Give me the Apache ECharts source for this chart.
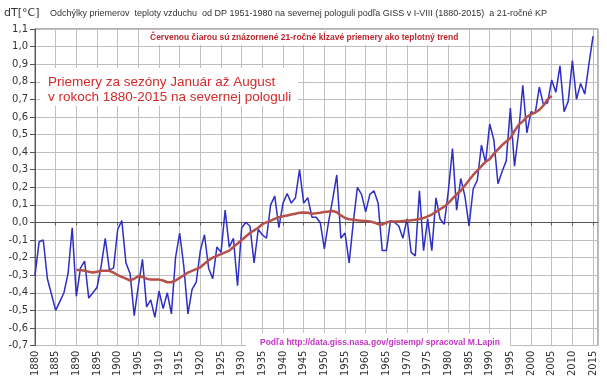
<!DOCTYPE html>
<html>
<head>
<meta charset="utf-8">
<script src="https://cdn.jsdelivr.net/npm/echarts@6/dist/echarts.min.js"></script>
<style>html,body{margin:0;padding:0;background:#fff;}#c{width:607px;height:379px;}</style>
</head>
<body>
<div id="c"></div>
<script>
const firstYear = 1880;
const annualValues = [
 -0.30,-0.11,-0.10,-0.32,-0.41,-0.50,-0.45,-0.40,-0.29,-0.03,
 -0.42,-0.26,-0.22,-0.43,-0.40,-0.37,-0.25,-0.09,-0.27,-0.26,
 -0.04,0.01,-0.23,-0.29,-0.53,-0.36,-0.21,-0.48,-0.44,-0.54,
 -0.39,-0.49,-0.40,-0.52,-0.20,-0.06,-0.25,-0.52,-0.38,-0.34,
 -0.16,-0.07,-0.26,-0.32,-0.14,-0.17,0.07,-0.14,-0.09,-0.36,
 -0.03,0.00,-0.02,-0.23,-0.04,-0.07,-0.09,0.10,0.15,-0.03,
 0.11,0.165,0.11,0.14,0.30,0.11,0.14,0.03,0.03,0.00,
 -0.15,0.00,0.13,0.27,-0.09,-0.06,-0.23,0.00,0.20,0.16,
 0.06,0.16,0.18,0.11,-0.16,-0.16,0.01,0.00,-0.02,-0.09,
 0.02,-0.17,-0.19,0.18,-0.16,0.02,-0.16,0.14,0.02,-0.01,
 0.18,0.42,0.07,0.25,0.15,-0.02,0.19,0.24,0.44,0.34,
 0.56,0.47,0.22,0.29,0.35,0.65,0.32,0.51,0.78,0.51,
 0.63,0.62,0.77,0.67,0.68,0.81,0.74,0.89,0.63,0.69,
 0.92,0.70,0.79,0.73,0.90,1.06
];
const maFirstYear = 1890;
const movingAvg = [
 -0.27,-0.27,-0.275,-0.28,-0.285,-0.28,-0.275,-0.275,-0.275,-0.285,
 -0.30,-0.31,-0.32,-0.33,-0.32,-0.305,-0.31,-0.32,-0.325,-0.325,
 -0.325,-0.33,-0.34,-0.34,-0.33,-0.315,-0.30,-0.285,-0.275,-0.265,
 -0.255,-0.235,-0.215,-0.20,-0.19,-0.18,-0.17,-0.16,-0.14,-0.12,
 -0.10,-0.08,-0.06,-0.045,-0.03,-0.01,0.00,0.01,0.02,0.03,
 0.035,0.04,0.045,0.05,0.055,0.057,0.055,0.05,0.052,0.055,
 0.06,0.062,0.065,0.058,0.04,0.025,0.018,0.015,0.012,0.01,
 0.008,0.006,0.0,-0.01,-0.012,0.0,0.006,0.006,0.006,0.008,
 0.01,0.012,0.015,0.02,0.025,0.035,0.045,0.06,0.075,0.09,
 0.11,0.135,0.16,0.18,0.21,0.24,0.27,0.295,0.32,0.345,
 0.36,0.39,0.415,0.44,0.46,0.48,0.52,0.555,0.575,0.60,
 0.615,0.625,0.64,0.665,0.70,0.72
];
const yTickMin = -0.7, yTickMax = 1.1, yTickStep = 0.1;
const xTickStep = 5;

const titleText = 'Odchýlky priemerov  teploty vzduchu  od DP 1951-1980 na severnej pologuli podľa GISS v I-VIII (1880-2015)  a 21-ročné KP';
const unitText = 'dT[°C]';
const trendNote = 'Červenou čiarou sú znázornené 21-ročné kĺzavé priemery ako teplotný trend';
const bigNote1 = 'Priemery za sezóny Január až August';
const bigNote2 = 'v rokoch 1880-2015 na severnej pologuli';
const sourceNote = 'Podľa http://data.giss.nasa.gov/gistemp/ spracoval M.Lapin';

const blueData = annualValues.map((v, i) => [firstYear + i, v]);
const redData = movingAvg.map((v, i) => [maFirstYear + i, v]);

const chart = echarts.init(document.getElementById('c'), null, {renderer: 'canvas'});
chart.setOption({
  animation: false,
  backgroundColor: '#fff',
  grid: {left: 35, right: 9, top: 29, bottom: 29, show: true, borderColor: '#666', borderWidth: 1},
  xAxis: {
    type: 'value', min: 1880, max: 2016.2, interval: xTickStep,
    axisLine: {show: true, lineStyle: {color: '#555'}},
    axisTick: {show: true, length: 3, lineStyle: {color: '#555'}},
    splitLine: {show: true, lineStyle: {color: '#bfbfbf', width: 1}},
    axisLabel: {rotate: 90, fontSize: 10, color: '#333', margin: 5, fontFamily: 'DejaVu Sans',
      showMaxLabel: false, formatter: v => String(v)}
  },
  yAxis: {
    type: 'value', min: yTickMin, max: yTickMax, interval: yTickStep,
    axisLine: {show: true, lineStyle: {color: '#555'}},
    axisTick: {show: true, length: 5, lineStyle: {color: '#555'}},
    splitLine: {show: true, lineStyle: {color: '#bfbfbf', width: 1}},
    axisLabel: {fontSize: 10, color: '#333', margin: 7, fontFamily: 'DejaVu Sans',
      formatter: v => v.toFixed(1).replace('.', ',')}
  },
  series: [
    {type: 'line', data: blueData, symbol: 'none', lineStyle: {color: '#2e2ec4', width: 1.5}, z: 2},
    {type: 'line', data: redData, symbol: 'none', smooth: false, lineStyle: {color: '#b5504a', width: 2.5}, z: 3}
  ],
  graphic: {
    elements: [
      {type: 'rect', z: 100, shape: {x: 140, y: 30, width: 318, height: 15}, style: {fill: '#fff'}},
      {type: 'rect', z: 100, shape: {x: 40, y: 68, width: 258, height: 38}, style: {fill: '#fff'}},
      {type: 'rect', z: 100, shape: {x: 246, y: 333, width: 264, height: 16}, style: {fill: '#fff'}},
      {type: 'text', z: 101, left: 4, top: 8, style: {text: unitText, fontSize: 11, fill: '#333', fontFamily: 'DejaVu Sans'}},
      {type: 'text', z: 101, left: 50, top: 9, style: {text: titleText, fontSize: 9, fill: '#333', fontFamily: 'Liberation Sans'}},
      {type: 'text', z: 101, left: 150, top: 33, style: {text: trendNote, fontSize: 8.5, fontWeight: 'bold', fill: '#b8282e', fontFamily: 'Liberation Sans'}},
      {type: 'text', z: 101, left: 48, top: 75, style: {text: bigNote1, fontSize: 13.5, fill: '#d42a2a', fontFamily: 'Liberation Sans'}},
      {type: 'text', z: 101, left: 48, top: 90, style: {text: bigNote2, fontSize: 13.5, fill: '#d42a2a', fontFamily: 'Liberation Sans'}},
      {type: 'text', z: 101, left: 260, top: 338, style: {text: sourceNote, fontSize: 8.5, fontWeight: 'bold', fill: '#c436c4', fontFamily: 'Liberation Sans'}}
    ]
  }
});
</script>
</body>
</html>
